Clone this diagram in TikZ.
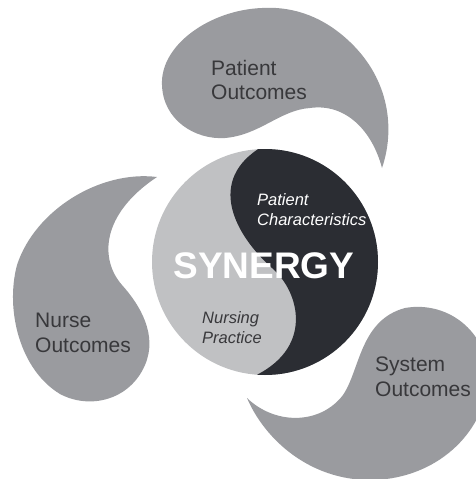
\documentclass[tikz,border=0pt]{standalone}
\usepackage{fontspec}
\setmainfont{Liberation Sans}
\usepackage{xcolor}
\definecolor{dropgray}{HTML}{9A9B9F}
\definecolor{corelight}{HTML}{C0C1C3}
\definecolor{coredark}{HTML}{2B2D33}
\definecolor{inkgray}{HTML}{38383B}

\begin{document}
\begin{tikzpicture}[x=1pt, y=-1pt,
	drop/.style={fill=dropgray, draw=none},
	outcome/.style={anchor=north west, inner sep=0pt, align=left, text=inkgray, font=\fontsize{21}{24.5}\selectfont},
	facet/.style={anchor=north west, inner sep=0pt, align=left, font=\fontsize{16.5}{20}\selectfont\itshape}]
	\useasboundingbox (0,0) rectangle (476,479);
	\coordinate (core) at (265,262);
	% three drops round the core
	\path[drop] (382,168) .. controls (395,130) and (390,80) .. (350,42)
		.. controls (325,18) and (295,6) .. (262,8)
		.. controls (210,10) and (160,45) .. (162,85)
		.. controls (163,120) and (195,140) .. (225,138)
		.. controls (260,135) and (280,110) .. (310,108)
		.. controls (345,103) and (372,130) .. (382,168) -- cycle;
	\path[drop] (157,177) .. controls (100,170) and (35,210) .. (17,265)
		.. controls (5,310) and (20,370) .. (60,394)
		.. controls (90,410) and (130,400) .. (145,365)
		.. controls (158,335) and (140,305) .. (122,285)
		.. controls (100,260) and (100,215) .. (157,177) -- cycle;
	\path[drop] (247,398) .. controls (275,425) and (320,425) .. (343,395)
		.. controls (360,370) and (360,320) .. (405,308)
		.. controls (450,300) and (492,335) .. (488,385)
		.. controls (480,440) and (430,480) .. (370,480)
		.. controls (310,480) and (265,440) .. (247,398) -- cycle;
	% core: light disc with the dark half on top
	\fill[corelight] (core) circle [radius=113pt];
	\begin{scope}
		\clip (core) circle [radius=113pt];
		\fill[coredark] (263,146) .. controls (205,180) and (235,235) .. (272,268)
			.. controls (300,292) and (315,350) .. (250,378)
			-- (400,400) -- (400,130) -- cycle;
	\end{scope}
	\node[outcome] (patout) at (211,60) {Patient\\Outcomes};
	\node[outcome] (nurseout) at (35,313) {Nurse\\Outcomes};
	\node[outcome] (sysout) at (375,357) {System\\Outcomes};
	\node[facet, text=white] (patchar) at (257,193) {Patient\\Characteristics};
	\node[facet, text=inkgray] (nursprac) at (202,311) {Nursing\\Practice};
	\node[anchor=base, inner sep=0pt, text=white, font=\fontsize{37}{40}\selectfont\bfseries] (synergy) at (264,278) {SYNERGY};
\end{tikzpicture}
\end{document}
